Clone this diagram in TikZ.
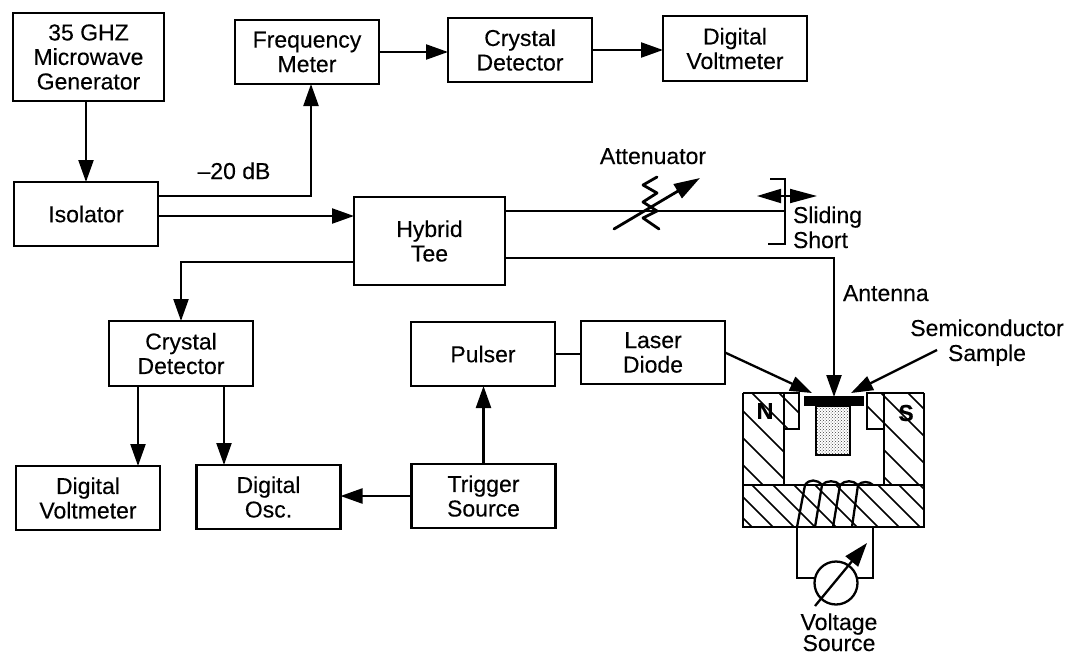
\documentclass[tikz,border=0pt]{standalone}
\usepackage{fontspec}
\setmainfont[FakeBold=0.25]{Liberation Sans}
\usetikzlibrary{arrows.meta,calc,patterns}
\tikzset{
  lbl/.style={inner sep=0pt,outer sep=0pt,align=center,font=\fontsize{23}{24.5}\selectfont},
  blk/.style={lbl,draw,line width=2.3pt,minimum width=144pt,minimum height=64pt},
  wire/.style={line width=2.3pt,line join=miter},
  arr/.style={wire,-{Triangle[length=22pt,width=15pt]}},
  hatch/.style={line width=1.7pt},
}
\begin{document}
\begin{tikzpicture}[x=1pt,y=-1pt]
\useasboundingbox (0,0) rectangle (1068,656);
% blocks
\node[blk,minimum width=151pt,minimum height=88pt] (gen) at (88.5,57) {35 GHZ\\Microwave\\Generator};
\node[blk] (freq) at (307,52) {Frequency\\Meter};
\node[blk] (xtal1) at (520,50) {Crystal\\Detector};
\node[blk,minimum height=65pt] (dvm1) at (735,48.5) {Digital\\Voltmeter};
\node[blk] (iso) at (86,214) {Isolator};
\node[blk,minimum width=151pt,minimum height=88pt] (tee) at (429.5,241) {Hybrid\\Tee};
\node[blk,minimum height=65pt] (xtal2) at (181,353.5) {Crystal\\Detector};
\node[blk] (dvm2) at (88,498) {Digital\\Voltmeter};
\node[blk] (osc) at (268.5,497) {Digital\\Osc.};
\node[blk] (trig) at (483.5,496) {Trigger\\Source};
\node[blk] (pulser) at (483,354) {Pulser};
\node[blk,minimum height=63pt] (laser) at (653,352.5) {Laser\\Diode};
% labels
\node[lbl,anchor=base] (db) at (234,179) {--20 dB};
\node[lbl,anchor=base] (att) at (653,164) {Attenuator};
\node[lbl,anchor=base west] (sl) at (793,223) {Sliding};
\node[lbl,anchor=base west] (sh) at (793,248) {Short};
\node[lbl,anchor=base west] (ant) at (843,301) {Antenna};
\node[lbl,anchor=base] (semi) at (987,336) {Semiconductor};
\node[lbl,anchor=base] (samp) at (987,361) {Sample};
\node[lbl,anchor=base] (volt) at (839,630) {Voltage};
\node[lbl,anchor=base] (src) at (839,651) {Source};
% key points
\coordinate (fb) at (311,84);
\coordinate (sh1) at (785,211);
\coordinate (top) at (834,258);
\coordinate (tip) at (834,397);
\coordinate (lasTip) at (812,393);
\coordinate (semTip) at (851,393);
\coordinate (semFrom) at (937,350);
% connectors
\draw[arr] (gen.south -| iso.north) -- (iso.north);
\draw[arr] ([yshift=18pt]iso.east) -| (fb);
\draw[arr] (iso.east |- tee.west) ++(0,-25) -- ($(tee.west)+(0,-25)$);
\draw[arr] ([yshift=-21pt]tee.west) -| (xtal2.north);
\draw[arr] (freq.east) -- (freq.east -| xtal1.west);
\draw[arr] (xtal1.east) -- (xtal1.east -| dvm1.west);
\draw[arr] ([xshift=-43pt]xtal2.south) -- ([xshift=-43pt]xtal2.south |- dvm2.north);
\draw[arr] ([xshift=43pt]xtal2.south) -- ([xshift=43pt]xtal2.south |- osc.north);
\draw[arr] (trig.west) -- (trig.west -| osc.east);
\draw[arr] (trig.north) -- (trig.north |- pulser.south);
\draw[wire] (pulser.east) -- (pulser.east -| laser.west);
\draw[arr] (laser.east) -- (lasTip);
\draw[arr] (tee.east |- top) -- (top) -- (tip);
\draw[arr] (semFrom) -- (semTip);
% sliding short line and attenuator
\draw[wire] (tee.east |- sh1) -- (sh1);
\draw[wire] (770,179) -- (785,179) -- (785,244) -- (768,244);
\draw[line width=1.8pt,{Triangle[length=24pt,width=14pt]}-{Triangle[length=27pt,width=14pt]}] (757,196) -- (817,196);
\draw[line width=2.8pt,line cap=round,line join=round] (657,177) -- (643,185) -- (657,193) -- (643,202) -- (657,211) -- (643,218) -- (659,229);
\draw[line width=2.8pt,line cap=round,-{Triangle[length=26pt,width=16pt]}] (614,229) -- (700,178);
% magnet hatching
\begin{scope}
\clip (743,393) -| (799,429) -| (784,485) -| cycle;
\foreach \k in {-2,...,8} \draw[hatch] (700,{368+\k*27}) -- ++(150,150);
\end{scope}
\begin{scope}
\clip (867,393) -| (924,485) -| (884,429) -| cycle;
\foreach \k in {-2,...,8} \draw[hatch] (850,{335+\k*27}) -- ++(150,150);
\end{scope}
\begin{scope}
\clip (743,485) rectangle (924,527);
\foreach \k in {-3,...,12} \draw[hatch] ({680+\k*21},455) -- ++(100,100);
\end{scope}
% magnet outline
\draw[wire] (743,393) -- (799,393) -- (799,429) -- (784,429);
\draw[wire] (924,393) -- (867,393) -- (867,429) -- (884,429);
\draw[wire] (784,393) -- (784,485);
\draw[wire] (884,393) -- (884,485);
\draw[wire] (743,393) -- (743,527) -- (924,527) -- (924,393);
\draw[wire] (743,485) -- (924,485);
\node[lbl,font=\fontsize{23}{24.5}\selectfont\bfseries] (n) at (765,411) {N};
\node[lbl,font=\fontsize{23}{24.5}\selectfont\bfseries] (s) at (906,413) {S};
% sample
\draw[wire,pattern=crosshatch dots,pattern color=black!75] (816,406) rectangle (850,455);
\fill (804,396) rectangle (864,406);
% coil
\draw[wire] (805,485) -- (797,527) (822,485) -- (815,527) (840,485) -- (833,527) (858,485) -- (852,527);
\draw[wire] (805,485) .. controls (809,479) and (817,479) .. (822,485)
  (822,485) .. controls (826,480) and (836,480) .. (840,485)
  (840,485) .. controls (845,480) and (853,480) .. (858,485)
  (858,485) .. controls (862,481) and (869,481) .. (873,485);
% voltage source
\node[draw,circle,line width=2.3pt,minimum size=43pt,inner sep=0pt,outer sep=0pt] (vs) at (836,583) {};
\coordinate (la) at (797,527);
\coordinate (lb) at (873,527);
\coordinate (lc) at (797,578);
\coordinate (ld) at (873,578);
\draw[wire] (la) -- (lc) -- (lc -| vs.west);
\draw[wire] (lb) -- (ld) -- (ld -| vs.east);
\draw[line width=2.3pt,-{Triangle[length=24pt,width=16pt]}] (815,606) -- (867,543);
\end{tikzpicture}
\end{document}
